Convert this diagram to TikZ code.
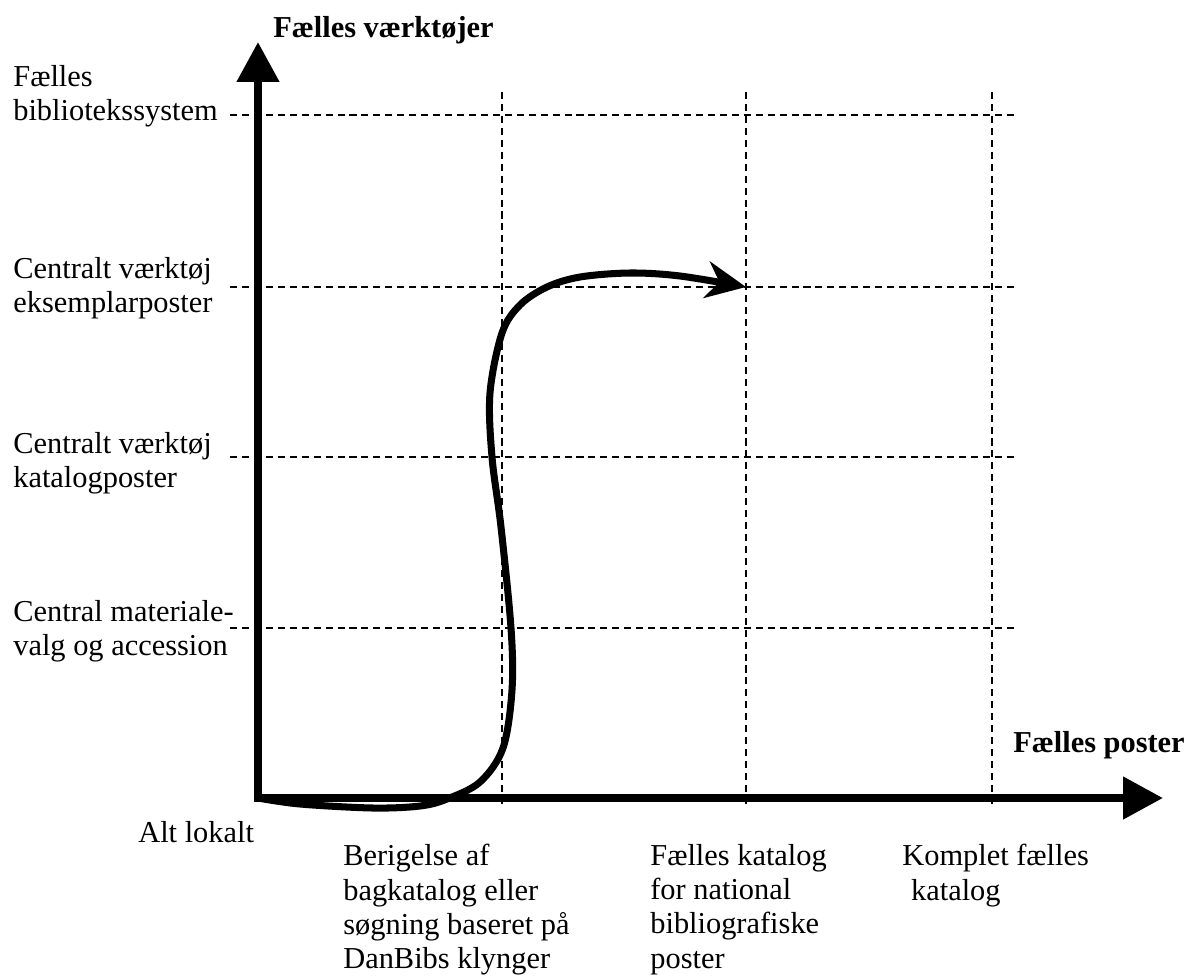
\documentclass[tikz,border=0pt]{standalone}
\usepackage{fontspec}
\setmainfont{Liberation Serif}
\usetikzlibrary{arrows.meta}

\begin{document}
\begin{tikzpicture}[
    x=0.02cm, y=-0.02cm,
    font=\fontsize{17.3}{19.5}\selectfont,
    axis/.style={line width=4.5pt, line join=miter,
        {Triangle[length=8mm, width=8.2mm]}-{Triangle[length=8mm, width=8.2mm]}},
    grid/.style={line width=1.1pt, dash pattern=on 4pt off 2.8pt},
    flow/.style={line width=4pt, line cap=round,
        -{Stealth[length=8mm, width=7.4mm, inset=2.6mm]}},
    level/.style={align=left, anchor=north west, inner sep=0pt},
    head/.style={font=\fontsize{17.3}{19.5}\selectfont\bfseries, anchor=base west, inner sep=0pt}
]
\useasboundingbox (0,0) rectangle (1197,978);

% Axis points
\coordinate (origin) at (258,798);
\coordinate (ytip) at (258,42);
\coordinate (xtip) at (1163,798);
\coordinate (target) at (746,287);

% Grid
\foreach \y in {115,287,457,628}
    \draw[grid] (230,\y) -- (1018,\y);
\foreach \x in {502,746,992}
    \draw[grid] (\x,92) -- (\x,808);

% Axes
\draw[axis] (ytip) -- (origin) -- (xtip);

\node[head] (ytitle) at (273,37) {Fælles værktøjer};
\node[head] (xtitle) at (1013,752) {Fælles poster};

% Levels on the vertical axis
\node[level] (sys) at (13,65) {Fælles\\bibliotekssystem};
\node[level] (eks) at (13,257) {Centralt værktøj\\eksemplarposter};
\node[level] (kat) at (13,432) {Centralt værktøj\\katalogposter};
\node[level] (mat) at (13,600) {Central materiale-\\valg og accession};

% Levels on the horizontal axis
\node[anchor=base west, inner sep=0pt] (lokal) at (138,842) {Alt lokalt};
\node[level] (berig) at (343,844) {Berigelse af\\bagkatalog eller\\søgning baseret på\\DanBibs klynger};
\node[level] (natbib) at (650,844) {Fælles katalog\\for national\\bibliografiske\\poster};
\node[level] (komplet) at (902,844) {Komplet fælles\\\hspace*{5pt}katalog};

% Development path
\draw[flow] plot[smooth, tension=0.55] coordinates {
    (origin) (300,804) (373,808) (420,806) (447,799) (480,782) (503,748)
    (512,690) (511,628) (501,527) (492,457) (490,393) (502,333) (520,305)
    (547,287) (580,277) (630,273) (680,276) (target)};

\end{tikzpicture}
\end{document}
